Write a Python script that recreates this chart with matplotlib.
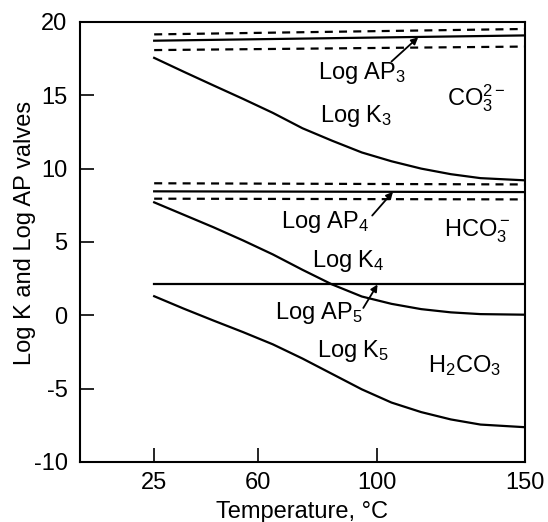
import numpy as np
import matplotlib
matplotlib.use('Agg')
import matplotlib.pyplot as plt

plt.rcParams['font.family'] = ['Liberation Sans', 'DejaVu Sans']
plt.rcParams['mathtext.fontset'] = 'custom'
plt.rcParams['mathtext.rm'] = 'Liberation Sans'
plt.rcParams['mathtext.it'] = 'Liberation Sans'
plt.rcParams['mathtext.bf'] = 'Liberation Sans:bold'
plt.rcParams['axes.unicode_minus'] = False

# temperatures (deg C)
temp_k = [25, 35, 45, 55, 65, 75, 85, 95, 105, 115, 125, 135, 150]

# log K curves
log_k3 = [17.55, 16.6, 15.67, 14.75, 13.8, 12.75, 11.9, 11.1, 10.5, 10.0, 9.62, 9.35, 9.2]
log_k4 = [7.7, 6.85, 6.0, 5.1, 4.15, 3.1, 2.1, 1.28, 0.78, 0.42, 0.2, 0.08, 0.04]
log_k5 = [1.3, 0.45, -0.36, -1.15, -1.98, -2.95, -4.0, -5.05, -5.95, -6.6, -7.1, -7.45, -7.63]

# log AP lines with their dashed bands (values at 25 and 150 deg C)
temp_ap = [25, 150]
log_ap3 = [18.72, 19.08]
ap3_hi = [19.15, 19.52]
ap3_lo = [18.08, 18.32]
log_ap4 = [8.45, 8.4]
ap4_hi = [9.0, 8.92]
ap4_lo = [7.95, 7.9]
log_ap5 = [2.1, 2.1]

fig = plt.figure(figsize=(5.48, 5.22), dpi=100)
ax = fig.add_axes([0.146, 0.115, 0.812, 0.843])

lw = 1.6
for y in [log_k3, log_k4, log_k5]:
    ax.plot(temp_k, y, color='black', lw=lw)
for y in [log_ap3, log_ap4, log_ap5]:
    ax.plot(temp_ap, y, color='black', lw=lw)
for y in [ap3_hi, ap3_lo, ap4_hi, ap4_lo]:
    ax.plot(temp_ap, y, color='black', lw=lw, dashes=(3.6, 2.8))

txt = dict(fontsize=17, ha='center', va='center')
ax.text(95, 16.5, r'Log AP$_3$', **txt)
ax.text(93, 13.6, r'Log K$_3$', **txt)
ax.text(133.7, 14.8, r'CO$_3^{2-}$', **txt)
ax.text(82.8, 6.35, r'Log AP$_4$', **txt)
ax.text(90.6, 3.7, r'Log K$_4$', **txt)
ax.text(134, 5.7, r'HCO$_3^-$', **txt)
ax.text(80.5, 0.15, r'Log AP$_5$', **txt)
ax.text(92, -2.45, r'Log K$_5$', **txt)
ax.text(129.7, -3.45, r'H$_2$CO$_3$', **txt)

arrow = dict(arrowstyle='-|>', color='black', lw=1.3, mutation_scale=10,
             shrinkA=0, shrinkB=0)
ax.annotate('', xy=(114, 18.95), xytext=(105, 17.3), arrowprops=arrow)
ax.annotate('', xy=(105.5, 8.42), xytext=(98.5, 6.8), arrowprops=arrow)
ax.annotate('', xy=(100.3, 2.1), xytext=(95.5, 0.5), arrowprops=arrow)

ax.set_xlim(0, 150)
ax.set_ylim(-10, 20)
ax.set_xticks([25, 60, 100, 150])
ax.set_yticks([-10, -5, 0, 5, 10, 15, 20])
ax.tick_params(direction='in', length=10, width=1.2, labelsize=17)
ax.tick_params(axis='y', pad=9)
ax.tick_params(axis='x', pad=7)
for s in ax.spines.values():
    s.set_linewidth(1.5)

ax.set_xlabel('Temperature, °C', fontsize=17, labelpad=5)
ax.set_ylabel('Log K and Log AP valves', fontsize=17)
ax.yaxis.set_label_coords(-0.10, 0.52)

fig.savefig('out.png', dpi=100)
